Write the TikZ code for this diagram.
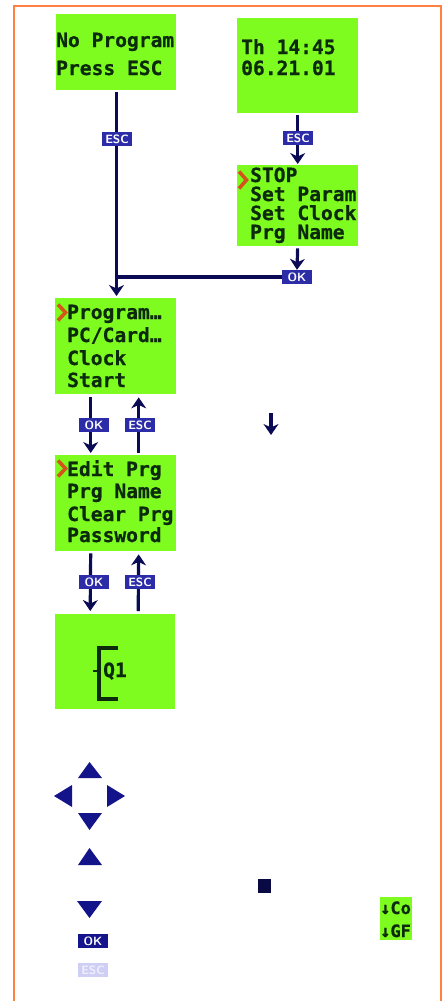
\documentclass[tikz,border=0pt]{standalone}
\usepackage{fontspec}
\setmonofont[BoldFeatures={FakeBold=0.6}]{DejaVu Sans Mono}
\usetikzlibrary{arrows.meta,backgrounds}
\definecolor{lcdgreen}{HTML}{7EFC20}
\definecolor{lcdink}{HTML}{0C2A0C}
\definecolor{navyline}{HTML}{0B0B55}
\definecolor{btnblue}{HTML}{2C2CA8}
\definecolor{btndark}{HTML}{14148C}
\definecolor{btnpale}{HTML}{CFCFF5}
\definecolor{btnpaletext}{HTML}{EFEFFD}
\definecolor{framecol}{HTML}{FF8040}
\definecolor{chevcol}{HTML}{D4551A}
\definecolor{triblue}{HTML}{14148A}
\tikzset{
  lcdbox/.style={fill=lcdgreen,draw=none,inner sep=0pt,anchor=north west},
  lcdtext/.style={anchor=base west,inner sep=0pt,text=lcdink,font=\ttfamily\bfseries\fontsize{19.6}{20}\selectfont},
  smalltext/.style={anchor=base west,inner sep=0pt,text=lcdink,font=\ttfamily\bfseries\fontsize{17}{18}\selectfont},
  btn/.style={fill=btnblue,text=white,inner sep=0pt,minimum width=30pt,minimum height=14pt,font=\sffamily\bfseries\fontsize{12}{12}\selectfont},
  conn/.style={draw=navyline,line width=3.2pt},
  arr/.style={conn,-{Stealth[length=11pt,width=15pt,inset=3.5pt,line width=1.2pt]}},
  chev/.style={draw=chevcol,line width=3.6pt,miter limit=4},
  tri/.style={fill=triblue,draw=none},
}
\begin{document}
\begin{tikzpicture}[x=1pt,y=-1pt]
\useasboundingbox (0,0) rectangle (445,1001);
\begin{scope}[on background layer]
  \fill[white] (0,0) rectangle (445,1001);
\end{scope}
\draw[framecol,line width=2pt] (14,1001) -- (14,6) -- (441,6) -- (441,1001);

% LCD screens
\node[lcdbox,minimum width=120pt,minimum height=76pt] (boxA) at (56,14) {};
\node[lcdbox,minimum width=121pt,minimum height=95pt] (boxB) at (237,18) {};
\node[lcdbox,minimum width=121pt,minimum height=81pt] (boxC) at (237,165) {};
\node[lcdbox,minimum width=121pt,minimum height=96pt] (boxD) at (55,298) {};
\node[lcdbox,minimum width=121pt,minimum height=96pt] (boxE) at (55,455) {};
\node[lcdbox,minimum width=120pt,minimum height=95pt] (boxF) at (55,614) {};
\node[lcdbox,minimum width=32pt,minimum height=43pt] (boxG) at (380,897) {};

% Screen texts
\node[lcdtext] (a1) at (56,47) {No Program};
\node[lcdtext] (a2) at (56,75) {Press ESC};
\node[lcdtext] (b1) at (241,54) {Th 14:45};
\node[lcdtext] (b2) at (241,75) {06.21.01};
\node[lcdtext] (c1) at (250,182) {STOP};
\node[lcdtext] (c2) at (250,201) {Set Param};
\node[lcdtext] (c3) at (250,220) {Set Clock};
\node[lcdtext] (c4) at (250,239) {Prg Name};
\node[lcdtext] (d1) at (67,319) {Program…};
\node[lcdtext] (d2) at (67,342) {PC/Card…};
\node[lcdtext] (d3) at (67,365) {Clock};
\node[lcdtext] (d4) at (67,387) {Start};
\node[lcdtext] (e1) at (67,476) {Edit Prg};
\node[lcdtext] (e2) at (67,498) {Prg Name};
\node[lcdtext] (e3) at (67,521) {Clear Prg};
\node[lcdtext] (e4) at (67,542) {Password};
\node[lcdtext] (q1) at (103,677) {Q1};
\node[smalltext] (g1) at (380,914) {↓Co};
\node[smalltext] (g2) at (380,937) {↓GF};

% Contact bracket
\draw[lcdink,line width=3.2pt] (118,648) -- (99,648) -- (99,699) -- (118,699);
\draw[lcdink,line width=2.8pt] (93,671) -- (99,671);

% Selection chevrons
\draw[chev] (239,171.5) -- (246.5,180) -- (239,188.5);
\draw[chev] (58,304.5) -- (65.5,312.5) -- (58,320.5);
\draw[chev] (58,460.5) -- (65.5,468.5) -- (58,476.5);

% Buttons
\node[btn] (escA) at (117,139) {ESC};
\node[btn] (escB) at (298,138) {ESC};
\node[btn] (okC) at (297,277) {OK};
\node[btn] (okD) at (94,425) {OK};
\node[btn] (escD) at (140,425) {ESC};
\node[btn] (okE) at (94,582) {OK};
\node[btn] (escE) at (140,582) {ESC};
\node[btn,fill=btndark] (okKey) at (93,941) {OK};
\node[btn,fill=btnpale,text=btnpaletext] (escKey) at (93,970) {ESC};

% Free ends
\coordinate (junc) at (116.5,277);
\coordinate (loneTop) at (271,413);
\coordinate (loneEnd) at (271,435);

\begin{scope}[on background layer]
  \draw[arr,shorten <=2pt,shorten >=2pt] (boxA.south -| junc) -- (boxD.north -| junc);
  \draw[arr,shorten <=2pt,shorten >=1pt] (boxB.south) -- (boxC.north);
  \draw[arr,shorten <=2pt] (boxC.south) -- (okC.north);
  \draw[conn] (okC.west) -- (junc);
  \draw[arr,shorten <=3pt,shorten >=2pt] ([xshift=-25pt]boxD.south) -- ([xshift=-25pt]boxE.north);
  \draw[arr,shorten <=2pt,shorten >=3pt] ([xshift=23pt]boxE.north) -- ([xshift=23pt]boxD.south);
  \draw[arr,shorten <=2pt,shorten >=3pt] ([xshift=-25pt]boxE.south) -- ([xshift=-25pt]boxF.north);
  \draw[arr,shorten <=3pt,shorten >=3pt] ([xshift=23pt]boxF.north) -- ([xshift=23pt]boxE.south);
  \draw[arr] (loneTop) -- (loneEnd);
\end{scope}

% Navigation triangles
\fill[tri] (89.5,762) -- (102,778) -- (78,778) -- cycle;
\fill[tri] (54,796) -- (72,785) -- (72,807) -- cycle;
\fill[tri] (125,796) -- (107,785) -- (107,807) -- cycle;
\fill[tri] (78,813) -- (102,813) -- (89.5,830) -- cycle;
\fill[tri] (89.5,848) -- (102,865) -- (78,865) -- cycle;
\fill[tri] (77,901) -- (102,901) -- (89.5,918) -- cycle;

% Stop square
\fill[navyline!80!black] (258,879) rectangle (271,893);
\end{tikzpicture}
\end{document}
